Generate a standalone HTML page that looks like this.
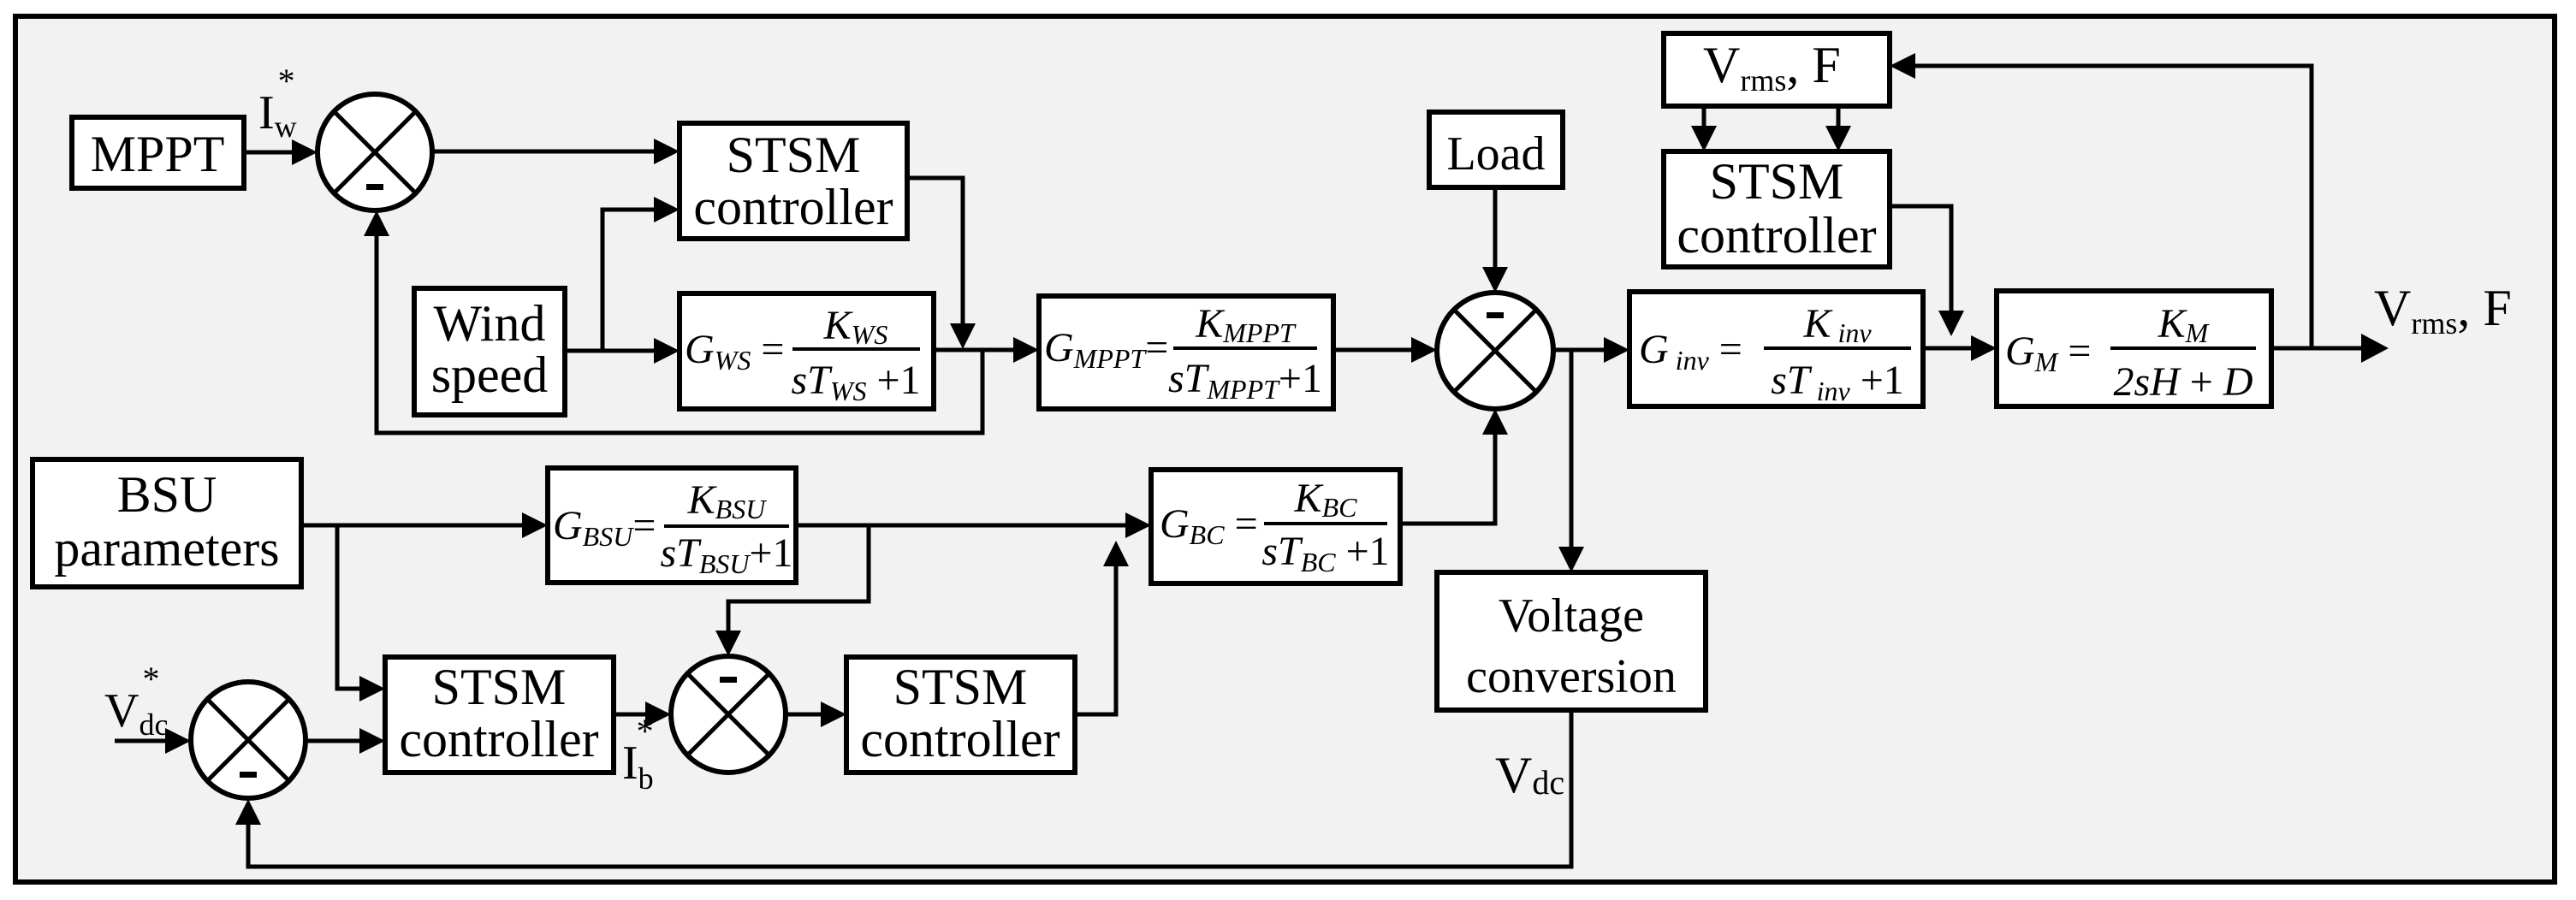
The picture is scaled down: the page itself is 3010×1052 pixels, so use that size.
<!DOCTYPE html>
<html><head><meta charset="utf-8"><style>
html,body{margin:0;padding:0;background:#fff;}
svg{display:block;}
svg, svg text, svg tspan{font-family:"Liberation Serif","Times New Roman",serif !important;}
text{fill:#000;}
.t{font-size:60px;}
.m{font-size:48px;font-style:italic;}
.s{font-size:32px;font-style:italic;}
</style></head><body>
<svg width="3010" height="1052" viewBox="0 0 3010 1052" xmlns="http://www.w3.org/2000/svg" font-family="Liberation Serif, serif">
<rect x="0" y="0" width="3010" height="1052" fill="#fff"/>
<rect x="18" y="19" width="2967" height="1012" fill="#f2f2f2" stroke="#000" stroke-width="6"/>
<g fill="#fff" stroke="#000" stroke-width="6">
<rect x="84" y="137" width="201" height="83"/>
<rect x="794" y="144" width="266" height="135"/>
<rect x="484" y="337" width="176" height="148"/>
<rect x="794" y="343" width="297" height="135"/>
<rect x="1214" y="346" width="344" height="132"/>
<rect x="1670" y="131" width="156" height="88"/>
<rect x="1904" y="341" width="343" height="134"/>
<rect x="2333" y="340" width="321" height="135"/>
<rect x="1944" y="39" width="264" height="85"/>
<rect x="1944" y="177" width="264" height="135"/>
<rect x="1679" y="669" width="314" height="161"/>
<rect x="38" y="537" width="314" height="149"/>
<rect x="640" y="547" width="290" height="134"/>
<rect x="1345" y="549" width="291" height="133"/>
<rect x="450" y="768" width="267" height="135"/>
<rect x="989" y="768" width="267" height="135"/>
<ellipse cx="438" cy="178" rx="67" ry="68"/>
<ellipse cx="290" cy="865" rx="67" ry="68"/>
<ellipse cx="851" cy="835" rx="67" ry="68"/>
<ellipse cx="1747" cy="410" rx="68" ry="68"/>
</g>
<g stroke="#000" stroke-width="5">
<line x1="391" y1="131" x2="485" y2="225"/><line x1="485" y1="131" x2="391" y2="225"/>
<line x1="243" y1="818" x2="337" y2="912"/><line x1="337" y1="818" x2="243" y2="912"/>
<line x1="804" y1="788" x2="898" y2="882"/><line x1="898" y1="788" x2="804" y2="882"/>
<line x1="1699" y1="362" x2="1795" y2="458"/><line x1="1795" y1="362" x2="1699" y2="458"/>
</g>
<g fill="#000">
<rect x="428" y="215" width="20" height="7"/>
<rect x="280" y="902" width="20" height="7"/>
<rect x="841" y="791" width="20" height="7"/>
<rect x="1737" y="365" width="20" height="7"/>
</g>
<g fill="none" stroke="#000" stroke-width="5">
<polyline points="285,178 350,178"/>
<polyline points="505,177 770,177"/>
<polyline points="660,410 770,410"/>
<polyline points="704,410 704,245 770,245"/>
<polyline points="1060,208 1125,208 1125,385"/>
<polyline points="1091,409 1190,409"/>
<polyline points="1148,409 1148,506 440,506 440,270"/>
<polyline points="1558,409 1655,409"/>
<polyline points="1747,219 1747,318"/>
<polyline points="1816,409 1880,409"/>
<polyline points="1836,409 1836,645"/>
<polyline points="1836,830 1836,1013 290,1013 290,958"/>
<polyline points="352,614 616,614"/>
<polyline points="394,614 394,805 426,805"/>
<polyline points="134,866 200,866"/>
<polyline points="357,866 426,866"/>
<polyline points="717,835 760,835"/>
<polyline points="930,614 1321,614"/>
<polyline points="1015,614 1015,703 851,703 851,743"/>
<polyline points="918,835 965,835"/>
<polyline points="1256,835 1304,835 1304,656"/>
<polyline points="1636,612 1747,612 1747,502"/>
<polyline points="1991,124 1991,155"/>
<polyline points="2148,124 2148,155"/>
<polyline points="2208,241 2280,241 2280,370"/>
<polyline points="2247,407 2310,407"/>
<polyline points="2654,407 2765,407"/>
<polyline points="2701,407 2701,77 2232,77"/>
</g>
<g fill="#000">
<polygon points="341,163 371,178 341,193"/>
<polygon points="764,162 794,177 764,192"/>
<polygon points="764,395 794,410 764,425"/>
<polygon points="764,230 794,245 764,260"/>
<polygon points="1110,378 1125,408 1140,378"/>
<polygon points="1184,394 1214,409 1184,424"/>
<polygon points="425,276 440,246 455,276"/>
<polygon points="1649,394 1679,409 1649,424"/>
<polygon points="1732,312 1747,342 1762,312"/>
<polygon points="1874,394 1904,409 1874,424"/>
<polygon points="1821,639 1836,669 1851,639"/>
<polygon points="275,964 290,934 305,964"/>
<polygon points="610,599 640,614 610,629"/>
<polygon points="420,790 450,805 420,820"/>
<polygon points="193,851 223,866 193,881"/>
<polygon points="420,851 450,866 420,881"/>
<polygon points="754,820 784,835 754,850"/>
<polygon points="1315,599 1345,614 1315,629"/>
<polygon points="836,737 851,767 866,737"/>
<polygon points="959,820 989,835 959,850"/>
<polygon points="1289,662 1304,632 1319,662"/>
<polygon points="1732,508 1747,478 1762,508"/>
<polygon points="1976,147 1991,177 2006,147"/>
<polygon points="2133,147 2148,177 2163,147"/>
<polygon points="2265,363 2280,393 2295,363"/>
<polygon points="2303,392 2333,407 2303,422"/>
<polygon points="2759,390 2791,407 2759,424"/>
<polygon points="2238,62 2208,77 2238,92"/>
</g>
<g class="t" text-anchor="middle">
<text x="184" y="200">MPPT</text>
<text x="927" y="201">STSM</text>
<text x="927" y="262">controller</text>
<text x="572" y="398">Wind</text>
<text x="572" y="458">speed</text>
<text x="195" y="598">BSU</text>
<text x="195" y="661">parameters</text>
<text x="583" y="823">STSM</text>
<text x="583" y="884">controller</text>
<text x="1122" y="823">STSM</text>
<text x="1122" y="884">controller</text>
<text x="2076" y="232">STSM</text>
<text x="2076" y="295">controller</text>
<text x="1748" y="198" font-size="56">Load</text>
<text x="1836" y="738" font-size="56">Voltage</text>
<text x="1836" y="809" font-size="56">conversion</text>
</g>
<text x="1990" y="96" class="t">V<tspan font-size="36" dy="10">rms</tspan><tspan dy="-10">, F</tspan></text>
<text x="2774" y="380" class="t">V<tspan font-size="36" dy="10">rms</tspan><tspan dy="-10">, F</tspan></text>
<text x="1747" y="926" class="t">V<tspan font-size="40" dy="2">dc</tspan></text>
<text x="302" y="150" font-size="56">I<tspan font-size="36" dy="10">w</tspan><tspan font-size="40" dx="-22" dy="-52">*</tspan></text>
<text x="122" y="849" font-size="56">V<tspan font-size="36" dy="10">dc</tspan><tspan font-size="40" dx="-30" dy="-52">*</tspan></text>
<text x="727" y="910" font-size="56">I<tspan font-size="36" dy="12">b</tspan><tspan font-size="40" dx="-20" dy="-54">*</tspan></text>
<g stroke="#000" stroke-width="4">
<line x1="926" y1="408" x2="1075" y2="408"/>
<line x1="1371" y1="407" x2="1539" y2="407"/>
<line x1="776" y1="615" x2="922" y2="615"/>
<line x1="1477" y1="612" x2="1621" y2="612"/>
<line x1="2061" y1="407" x2="2233" y2="407"/>
<line x1="2466" y1="407" x2="2636" y2="407"/>
</g>
<text x="800" y="424" class="m">G<tspan class="s" dy="8">WS</tspan><tspan font-style="normal" dy="-8"> =</tspan></text>
<text x="1000" y="396" class="m" text-anchor="middle">K<tspan class="s" dy="6">WS</tspan></text>
<text x="1000" y="460" class="m" text-anchor="middle">sT<tspan class="s" dy="8">WS</tspan><tspan font-style="normal" dy="-8"> +1</tspan></text>
<text x="1220" y="422" class="m">G<tspan class="s" dy="8">MPPT</tspan><tspan font-style="normal" dy="-8">=</tspan></text>
<text x="1455" y="394" class="m" text-anchor="middle">K<tspan class="s" dy="6">MPPT</tspan></text>
<text x="1455" y="458" class="m" text-anchor="middle">sT<tspan class="s" dy="8">MPPT</tspan><tspan font-style="normal" dy="-8">+1</tspan></text>
<text x="646" y="630" class="m">G<tspan class="s" dy="8">BSU</tspan><tspan font-style="normal" dy="-8">=</tspan></text>
<text x="849" y="600" class="m" text-anchor="middle">K<tspan class="s" dy="6">BSU</tspan></text>
<text x="849" y="662" class="m" text-anchor="middle">sT<tspan class="s" dy="8">BSU</tspan><tspan font-style="normal" dy="-8">+1</tspan></text>
<text x="1355" y="628" class="m">G<tspan class="s" dy="8">BC</tspan><tspan font-style="normal" dy="-8"> =</tspan></text>
<text x="1549" y="598" class="m" text-anchor="middle">K<tspan class="s" dy="6">BC</tspan></text>
<text x="1549" y="660" class="m" text-anchor="middle">sT<tspan class="s" dy="8">BC</tspan><tspan font-style="normal" dy="-8"> +1</tspan></text>
<text x="1915" y="424" class="m">G<tspan class="s" dy="8"> inv</tspan><tspan font-style="normal" dy="-8">   =</tspan></text>
<text x="2147" y="394" class="m" text-anchor="middle">K<tspan class="s" dy="6"> inv</tspan></text>
<text x="2147" y="460" class="m" text-anchor="middle">sT<tspan class="s" dy="8"> inv</tspan><tspan font-style="normal" dy="-8">  +1</tspan></text>
<text x="2343" y="426" class="m">G<tspan class="s" dy="8">M</tspan><tspan font-style="normal" dy="-8"> =</tspan></text>
<text x="2551" y="394" class="m" text-anchor="middle">K<tspan class="s" dy="6">M</tspan></text>
<text x="2551" y="462" class="m" text-anchor="middle">2sH<tspan font-style="normal"> + </tspan>D</text>
</svg>
</body></html>
